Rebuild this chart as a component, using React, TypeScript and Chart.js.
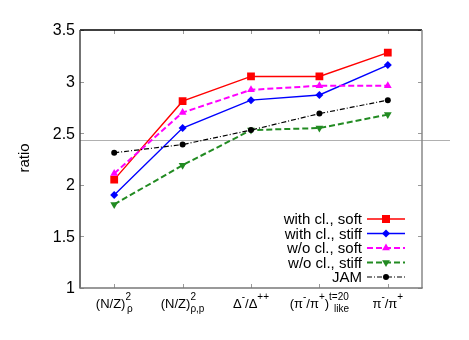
import React, { useEffect, useRef } from 'react';
import { Chart, registerables } from 'chart.js';

Chart.register(...registerables);

// ---- data ----
const categories = ['(N/Z)^2_ρ', '(N/Z)^2_ρ,p', 'Δ-/Δ++', '(π-/π+)^t=20_like', 'π-/π+'];
const withClSoft = [2.05, 2.81, 3.05, 3.05, 3.28];
const withClStiff = [1.9, 2.55, 2.82, 2.87, 3.16];
const woClSoft = [2.11, 2.7, 2.92, 2.96, 2.96];
const woClStiff = [1.81, 2.19, 2.53, 2.55, 2.68];
const jam = [2.31, 2.39, 2.53, 2.69, 2.82];
const seriesNames = ['with cl., soft', 'with cl., stiff', 'w/o cl., soft', 'w/o cl., stiff', 'JAM'];
const yTicks = [1, 1.5, 2, 2.5, 3, 3.5];
const yTickLabels = ['1', '1.5', '2', '2.5', '3', '3.5'];
const referenceValue = 2.435;
const yTitle = 'ratio';

// rich x tick labels: [text, kind, stackedSub?, subOffset?]
type Seg = [string, 'n' | 'sup' | 'sub' | 'ss', string?, number?];
const xLabelParts: Seg[][] = [
  [['(N/Z)', 'n'], ['2', 'ss', 'ρ', 1.5]],
  [['(N/Z)', 'n'], ['2', 'ss', 'ρ,p', 0]],
  [['Δ', 'n'], ['-', 'sup'], ['/Δ', 'n'], ['++', 'sup']],
  [['(π', 'n'], ['-', 'sup'], ['/π', 'n'], ['+', 'sup'], [')', 'n'], ['t=20', 'ss', 'like', 5]],
  [['π', 'n'], ['-', 'sup'], ['/π', 'n'], ['+', 'sup']],
];

const FONT = '"Liberation Sans", Arial, Helvetica, sans-serif';
const colors = ['#ff0000', '#0000ff', '#ff00ff', '#228b22', '#000000'];
const dashes: number[][] = [[], [], [6, 3], [6, 3], [5, 2, 1, 2]];
const widths = [1.4, 1.4, 2, 2, 1.2];
const pointStyles = ['rect', 'rectRot', 'triangle', 'triangle', 'circle'];
const pointRadii = [5.5, 4, 4.5, 4.5, 3];
const pointRotations = [0, 0, 0, 180, 0];

function drawMarker(ctx: CanvasRenderingContext2D, i: number, x: number, y: number) {
  ctx.save();
  ctx.fillStyle = colors[i];
  ctx.beginPath();
  if (i === 0) {
    ctx.rect(x - 4, y - 4, 8, 8);
  } else if (i === 1) {
    ctx.moveTo(x - 4, y);
    ctx.lineTo(x, y - 4);
    ctx.lineTo(x + 4, y);
    ctx.lineTo(x, y + 4);
  } else if (i === 2) {
    ctx.moveTo(x, y - 4.5);
    ctx.lineTo(x + 3.9, y + 2.25);
    ctx.lineTo(x - 3.9, y + 2.25);
  } else if (i === 3) {
    ctx.moveTo(x, y + 4.5);
    ctx.lineTo(x + 3.9, y - 2.25);
    ctx.lineTo(x - 3.9, y - 2.25);
  } else {
    ctx.arc(x, y, 3, 0, Math.PI * 2);
  }
  ctx.closePath();
  ctx.fill();
  ctx.restore();
}

const decorPlugin = {
  id: 'decor',
  beforeDatasetsDraw(chart: any) {
    const { ctx, chartArea, scales } = chart;
    const y = Math.round(scales.y.getPixelForValue(referenceValue)) + 0.5;
    ctx.save();
    ctx.strokeStyle = '#b0b0b0';
    ctx.lineWidth = 1;
    ctx.beginPath();
    ctx.moveTo(chartArea.left, y);
    ctx.lineTo(450, y);
    ctx.stroke();
    ctx.restore();
  },
  afterDraw(chart: any) {
    const { ctx, chartArea: a, scales } = chart;
    const L = a.left, R = a.right, T = a.top, B = a.bottom;
    ctx.save();
    // ticks (inward)
    ctx.strokeStyle = '#999';
    ctx.lineWidth = 1;
    ctx.beginPath();
    yTicks.forEach((v) => {
      const py = Math.round(scales.y.getPixelForValue(v)) + 0.5;
      ctx.moveTo(L, py); ctx.lineTo(L + 4, py);
      ctx.moveTo(R, py); ctx.lineTo(R - 4, py);
    });
    categories.forEach((_, i) => {
      const px = Math.round(scales.x.getPixelForValue(i)) + 0.5;
      ctx.moveTo(px, T); ctx.lineTo(px, T + 4);
      ctx.moveTo(px, B); ctx.lineTo(px, B - 4);
    });
    ctx.stroke();
    // border
    ctx.lineWidth = 1.5;
    ctx.strokeStyle = '#000';
    ctx.beginPath(); ctx.moveTo(L, T); ctx.lineTo(R, T); ctx.stroke();
    ctx.strokeStyle = '#444';
    ctx.beginPath(); ctx.moveTo(L, T); ctx.lineTo(L, B); ctx.stroke();
    ctx.strokeStyle = '#888';
    ctx.beginPath(); ctx.moveTo(R, T); ctx.lineTo(R, B); ctx.stroke();
    ctx.strokeStyle = '#777';
    ctx.beginPath(); ctx.moveTo(L - 0.75, B); ctx.lineTo(R + 0.75, B); ctx.stroke();

    // y tick labels
    ctx.fillStyle = '#000';
    ctx.font = `16px ${FONT}`;
    ctx.textAlign = 'right';
    ctx.textBaseline = 'middle';
    yTicks.forEach((v, i) => {
      ctx.fillText(yTickLabels[i], L - 5, scales.y.getPixelForValue(v) + 1);
    });

    // y title
    ctx.save();
    ctx.translate(25, 158);
    ctx.rotate(-Math.PI / 2);
    ctx.textAlign = 'center';
    ctx.textBaseline = 'middle';
    ctx.font = `15px ${FONT}`;
    ctx.fillText(yTitle, 0, 0);
    ctx.restore();

    // x tick labels (rich)
    const mainFont = `13px ${FONT}`;
    const smallFont = `10px ${FONT}`;
    const baseMain = B + 20, baseSup = B + 12, baseSub = B + 24;
    ctx.textAlign = 'left';
    ctx.textBaseline = 'alphabetic';
    xLabelParts.forEach((parts, i) => {
      const widthsArr = parts.map((p) => {
        if (p[1] === 'n') { ctx.font = mainFont; return ctx.measureText(p[0]).width; }
        ctx.font = smallFont;
        if (p[1] === 'ss') {
          return Math.max(ctx.measureText(p[0]).width, (p[3] || 0) + ctx.measureText(p[2] || '').width);
        }
        return ctx.measureText(p[0]).width;
      });
      const total = widthsArr.reduce((s, w) => s + w, 0);
      let x = scales.x.getPixelForValue(i) - total / 2;
      parts.forEach((p, j) => {
        if (p[1] === 'n') { ctx.font = mainFont; ctx.fillText(p[0], x, baseMain); }
        else if (p[1] === 'sup') { ctx.font = smallFont; ctx.fillText(p[0], x, baseSup); }
        else if (p[1] === 'sub') { ctx.font = smallFont; ctx.fillText(p[0], x, baseSub); }
        else {
          ctx.font = smallFont;
          ctx.fillText(p[0], x, baseSup);
          ctx.fillText(p[2] || '', x + (p[3] || 0), baseSub);
        }
        x += widthsArr[j];
      });
    });

    // legend
    ctx.font = `15px ${FONT}`;
    ctx.textAlign = 'right';
    ctx.textBaseline = 'middle';
    seriesNames.forEach((name, i) => {
      const y = B - 69 + i * 14.5;
      ctx.fillStyle = '#000';
      ctx.fillText(name, 362, y + 1);
      ctx.save();
      ctx.strokeStyle = colors[i];
      ctx.lineWidth = widths[i];
      ctx.setLineDash(dashes[i]);
      ctx.beginPath();
      ctx.moveTo(367, y); ctx.lineTo(405, y);
      ctx.stroke();
      ctx.restore();
      drawMarker(ctx, i, 386, y);
    });
    ctx.restore();
  },
};

export default function App() {
  const ref = useRef<HTMLCanvasElement | null>(null);
  useEffect(() => {
    if (!ref.current) return;
    const series = [withClSoft, withClStiff, woClSoft, woClStiff, jam];
    const chart = new Chart(ref.current, {
      type: 'line',
      data: {
        labels: categories,
        datasets: series.map((d, i) => ({
          label: seriesNames[i],
          data: d,
          borderColor: colors[i],
          backgroundColor: colors[i],
          borderWidth: widths[i],
          borderDash: dashes[i],
          pointStyle: pointStyles[i] as any,
          pointRadius: pointRadii[i],
          pointRotation: pointRotations[i],
          pointBorderWidth: 0,
          pointBackgroundColor: colors[i],
          fill: false,
          tension: 0,
          order: 4 - i,
        })),
      },
      options: {
        responsive: false,
        animation: false,
        events: [],
        layout: { padding: { left: 80, right: 47, top: 30, bottom: 52 } },
        plugins: { legend: { display: false }, tooltip: { enabled: false } },
        scales: {
          x: { type: 'category', offset: true, display: false },
          y: { min: 1, max: 3.5, display: false },
        },
      },
      plugins: [decorPlugin],
    });
    return () => chart.destroy();
  }, []);
  return (
    <div style={{ position: 'fixed', left: 0, top: 0, width: 469, height: 340, background: '#fff' }}>
      <canvas ref={ref} width={469} height={340} />
    </div>
  );
}
